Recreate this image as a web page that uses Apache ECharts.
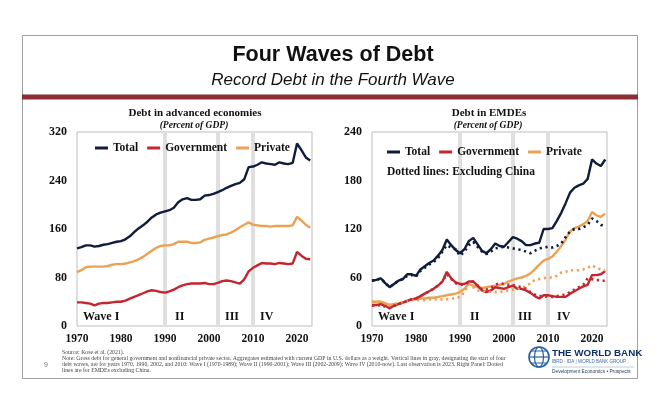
<!DOCTYPE html>
<html><head><meta charset="utf-8">
<script src="https://cdn.jsdelivr.net/npm/echarts@6/dist/echarts.min.js"></script>
<style>html,body{margin:0;padding:0;background:#fff}#c{width:658px;height:400px}</style>
</head><body><div id="c"></div>
<script>
// ---------- DATA ----------
const years = [];
for (let y = 1970; y <= 2023; y++) years.push(y);

// Advanced economies (percent of GDP)
const aeTotal = [128,130,133,133,131,132,134,135,137,139,140,143,148,155,161,166,172,179,184,187,189,191,195,204,209,211,208,208,209,215,216,218,221,224,228,231,234,236,242,262,263,266,270,268,267,266,270,268,267,269,301,290,278,273];
const aeGov = [39,39,38,37,34,37,38,38,39,40,40,42,45,48,51,54,57,59,58,56,55,57,60,64,67,69,70,70,70,71,69,69,71,74,75,74,72,70,77,90,96,100,104,103,103,102,104,103,102,103,122,116,111,110];
const aePriv = [89,92,97,98,98,98,98,99,101,102,102,103,105,107,110,114,119,124,129,132,133,133,135,139,139,139,137,137,138,142,144,146,148,150,151,154,158,163,167,171,167,166,165,165,164,165,165,165,165,166,180,174,167,162];

// EMDEs (percent of GDP)
const emTotal = [56,57,59,53,48,52,56,58,64,64,62,70,74,78,81,87,94,107,100,94,90,95,105,109,101,93,90,95,102,99,98,104,110,108,105,100,100,102,103,120,120,121,130,140,152,165,171,174,176,182,206,201,198,206];
const emTotalExCn = [56,57,59,53,48,52,56,58,62,63,61,68,72,76,79,84,92,100,97,95,87,92,100,104,98,92,89,92,96,97,98,97,96,95,94,92,90,93,96,97,98,97,99,102,110,117,120,120,122,125,133,130,125,124];
const emGov = [26,26,27,25,22,25,27,29,31,33,34,37,40,43,46,50,55,67,59,54,52,52,55,55,50,44,42,44,48,47,46,48,50,46,46,44,41,37,34,38,38,37,36,36,36,40,43,46,49,51,63,63,64,68];
const emGovExCn = [25,25,26,24,22,25,27,29,31,33,34,37,40,43,46,50,55,64,58,53,51,51,54,55,50,45,45,47,51,53,52,51,51,49,48,46,42,39,37,37,36,36,37,38,39,42,45,48,51,59,58,57,56,56];
const emPriv = [30,30,30,28,26,27,28,29,31,33,33,34,34,35,35,36,37,38,39,40,42,46,52,50,48,47,48,49,50,51,52,55,57,59,60,62,65,70,76,81,83,86,92,99,107,117,121,123,126,130,141,137,135,139];
const emPrivExCn = [30,30,30,28,26,27,28,29,31,32,32,32,32,33,33,33,33,33,34,34,36,42,52,48,44,43,42,42,42,42,43,44,45,46,47,49,53,57,58,59,60,60,62,66,67,69,69,69,70,72,75,72,70,69];

const waveStartYears = [1990, 2002, 2010];
const aeTicks = [0, 80, 160, 240, 320];
const emTicks = [0, 60, 120, 180, 240];
const xTickYears = [1970, 1980, 1990, 2000, 2010, 2020];
const seriesNames = ['Total', 'Government', 'Private'];

// ---------- STYLE ----------
const SERIF = '"Liberation Serif","Times New Roman",serif';
const SANS = '"Liberation Sans",Arial,sans-serif';
const C_TOT = '#101c3c', C_GOV = '#c3262f', C_PRI = '#eca154';
const pair = arr => years.map((y, i) => [y, arr[i]]);

function line(name, arr, color, gi, dotted) {
  return {
    type: 'line', name: name, xAxisIndex: gi, yAxisIndex: gi, zlevel: 1,
    data: pair(arr), showSymbol: false, silent: true, z: dotted ? 4 : 3,
    lineStyle: { color: color, width: dotted ? 2.6 : 2.4, type: dotted ? [2.2, 3.6] : 'solid', cap: 'butt' },
    itemStyle: { color: color }
  };
}
function bands(gi) {
  return {
    type: 'line', xAxisIndex: gi, yAxisIndex: gi, data: [], z: 1, zlevel: 0, silent: true,
    markLine: {
      silent: true, symbol: ['none', 'none'], label: { show: false },
      lineStyle: { color: '#dfdfdf', width: 4, type: 'solid' },
      data: waveStartYears.map(y => ({ xAxis: y }))
    }
  };
}
function xAxis(gi) {
  return {
    type: 'value', gridIndex: gi, min: 1970, max: 2023.4, interval: 10,
    axisLine: { show: false }, axisTick: { show: false }, splitLine: { show: false },
    axisLabel: {
      margin: 7, fontFamily: SERIF, fontWeight: 'bold', fontSize: 11.5, color: '#111',
      formatter: v => xTickYears.indexOf(v) >= 0 ? String(v) : ''
    }
  };
}
function yAxis(gi, ticks) {
  return {
    type: 'value', gridIndex: gi, min: ticks[0], max: ticks[ticks.length - 1],
    interval: ticks[1] - ticks[0],
    axisLine: { show: false }, axisTick: { show: false }, splitLine: { show: false },
    axisLabel: { margin: 10, fontFamily: SERIF, fontWeight: 'bold', fontSize: 12, color: '#111' }
  };
}
function t(x, y, s, size, extra) {
  return { type: 'text', x: x, y: y, zlevel: 2, style: Object.assign({ text: s, fontFamily: SERIF, fontWeight: 'bold', fontSize: size, fill: '#111', textVerticalAlign: 'middle' }, extra || {}) };
}

const noteLines = [
  'Source: Kose et al. (2021).',
  'Note: Gross debt for general government and nonfinancial private sector. Aggregates estimated with current GDP in U.S. dollars as a weight. Vertical lines in gray, designating the start of four',
  'debt waves, are for years 1970, 1990, 2002, and 2010: Wave I (1970-1989); Wave II (1990-2001); Wave III (2002-2009); Wave IV (2010-now). Last observation is 2023. Right Panel: Dotted',
  'lines are for EMDEs excluding China.'
];

const graphic = [
  { type: 'rect', shape: { x: 22.5, y: 35.5, width: 615, height: 343 }, style: { fill: 'none', stroke: '#a0a0a0', lineWidth: 1 }, z: -1 },
  { type: 'rect', shape: { x: 22, y: 94.5, width: 616, height: 5 }, style: { fill: '#8e2c33' } },
  t(333, 55, 'Four Waves of Debt', 21.5, { fontFamily: SANS, textAlign: 'center' }),
  t(333, 80, 'Record Debt in the Fourth Wave', 17, { fontFamily: SANS, fontWeight: 'normal', fontStyle: 'italic', textAlign: 'center' }),
  // panel titles
  t(195, 113, 'Debt in advanced economies', 11, { textAlign: 'center' }),
  t(194, 126, '(Percent of GDP)', 9.5, { fontStyle: 'italic', textAlign: 'center' }),
  t(489, 113, 'Debt in EMDEs', 11, { textAlign: 'center' }),
  t(488, 126, '(Percent of GDP)', 9.5, { fontStyle: 'italic', textAlign: 'center' }),
  t(387, 172, 'Dotted lines: Excluding China', 11.5),
  // wave labels
  t(83, 317, 'Wave I', 12), t(175, 317, 'II', 12), t(225, 317, 'III', 12), t(260, 317, 'IV', 12),
  t(378, 317, 'Wave I', 12), t(470, 317, 'II', 12), t(518, 317, 'III', 12), t(557, 317, 'IV', 12),
  // page number
  t(44, 365, '9', 7, { fontFamily: SANS, fontWeight: 'normal', fill: '#777' }),
  // World Bank logo
  { type: 'circle', shape: { cx: 539, cy: 357, r: 10 }, style: { fill: 'none', stroke: '#2a5f9e', lineWidth: 1.6 } },
  { type: 'ellipse', shape: { cx: 539, cy: 357, rx: 4.5, ry: 10 }, style: { fill: 'none', stroke: '#2a5f9e', lineWidth: 1.2 } },
  { type: 'line', shape: { x1: 529, y1: 357, x2: 549, y2: 357 }, style: { stroke: '#2a5f9e', lineWidth: 1.2 } },
  { type: 'line', shape: { x1: 531, y1: 351, x2: 547, y2: 351 }, style: { stroke: '#2a5f9e', lineWidth: 1 } },
  { type: 'line', shape: { x1: 531, y1: 363, x2: 547, y2: 363 }, style: { stroke: '#2a5f9e', lineWidth: 1 } },
  t(552, 353, 'THE WORLD BANK', 9.8, { fontFamily: SANS, fill: '#0c3266' }),
  t(552, 362, 'IBRD · IDA | WORLD BANK GROUP', 4.5, { fontFamily: SANS, fontWeight: 'normal', fill: '#3a6aa5' }),
  { type: 'line', shape: { x1: 552, y1: 367, x2: 634, y2: 367 }, style: { stroke: '#9aa9bf', lineWidth: 0.6 } },
  t(552, 372, 'Development Economics • Prospects', 4.8, { fontFamily: SANS, fontWeight: 'normal', fill: '#1d3c66' })
];
noteLines.forEach((s, i) => {
  graphic.push(t(62, 352 + i * 6.3, s, 5.8, { fontWeight: 'normal', fill: '#444' }));
});

const chart = echarts.init(document.getElementById('c'), null, { renderer: 'canvas' });
chart.setOption({
  animation: false,
  backgroundColor: '#fff',
  grid: [
    { left: 77, top: 132, width: 235, height: 194, show: true, borderColor: '#bdbdbd', borderWidth: 1, backgroundColor: 'transparent' },
    { left: 372, top: 132, width: 235, height: 194, show: true, borderColor: '#bdbdbd', borderWidth: 1, backgroundColor: 'transparent' }
  ],
  legend: [
    { data: seriesNames, left: 95, top: 142, padding: 0, itemGap: 9, itemWidth: 13, itemHeight: 3, icon: 'rect', zlevel: 2,
      selectedMode: false, textStyle: { fontFamily: SERIF, fontWeight: 'bold', fontSize: 11.5, color: '#111' } },
    { data: seriesNames, left: 387, top: 146, padding: 0, itemGap: 9, itemWidth: 13, itemHeight: 3, icon: 'rect', zlevel: 2,
      selectedMode: false, textStyle: { fontFamily: SERIF, fontWeight: 'bold', fontSize: 11.5, color: '#111' } }
  ],
  xAxis: [xAxis(0), xAxis(1)],
  yAxis: [yAxis(0, aeTicks), yAxis(1, emTicks)],
  series: [
    bands(0), bands(1),
    line('Private', aePriv, C_PRI, 0),
    line('Government', aeGov, C_GOV, 0),
    line('Total', aeTotal, C_TOT, 0),
    line('Private', emPriv, C_PRI, 1),
    line('Government', emGov, C_GOV, 1),
    line('Total', emTotal, C_TOT, 1),
    line('Private (excl. China)', emPrivExCn, C_PRI, 1, true),
    line('Government (excl. China)', emGovExCn, C_GOV, 1, true),
    line('Total (excl. China)', emTotalExCn, C_TOT, 1, true)
  ],
  graphic: graphic
});
</script>
</body></html>
